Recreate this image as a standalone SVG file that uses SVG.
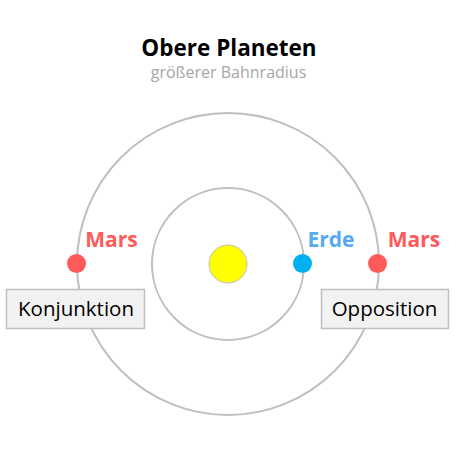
<svg xmlns="http://www.w3.org/2000/svg" width="457" height="457" viewBox="0 0 457 457">
<style>
.orbit{fill:none;stroke:#bfbfbf;stroke-width:2}
.lbl{font-family:"Open Sans","Noto Sans",sans-serif;font-weight:bold;font-size:21px;text-anchor:middle}
.box{fill:#f2f2f2;stroke:#bfbfbf;stroke-width:1.5}
.boxt{font-family:"Open Sans","Noto Sans",sans-serif;font-size:20.5px;fill:#000;text-anchor:middle}
</style>
<rect width="457" height="457" fill="#fff"/>
<text x="229" y="56" font-family="Open Sans, Noto Sans, sans-serif" font-weight="bold" font-size="22.5" text-anchor="middle" fill="#000">Obere Planeten</text>
<text x="228.5" y="78" font-family="Open Sans, Noto Sans, sans-serif" font-size="16" text-anchor="middle" fill="#a6a6a6">größerer Bahnradius</text>
<g id="orbits">
<circle class="orbit" cx="228" cy="264" r="151"/>
<circle class="orbit" cx="228" cy="264" r="76"/>
</g>
<g id="sonne"><circle cx="228" cy="264" r="19" fill="#ffff00" stroke="#bfbfbf" stroke-width="1"/></g>
<g id="mars-links">
<circle cx="76.5" cy="263.5" r="9.5" fill="#ff5a5a"/>
<text class="lbl" x="111.5" y="247" fill="#ff5a5a">Mars</text>
</g>
<g id="erde">
<circle cx="302.5" cy="263.5" r="9.5" fill="#00b0f0"/>
<text class="lbl" x="331" y="247" fill="#55aaf0">Erde</text>
</g>
<g id="mars-rechts">
<circle cx="377.5" cy="263.5" r="9.5" fill="#ff5a5a"/>
<text class="lbl" x="414" y="247" fill="#ff5a5a">Mars</text>
</g>
<g id="konjunktion">
<rect class="box" x="6.5" y="289.5" width="138" height="39"/>
<text class="boxt" x="76" y="316">Konjunktion</text>
</g>
<g id="opposition">
<rect class="box" x="321.5" y="289.5" width="127" height="39"/>
<text class="boxt" x="384.5" y="316">Opposition</text>
</g>
</svg>
